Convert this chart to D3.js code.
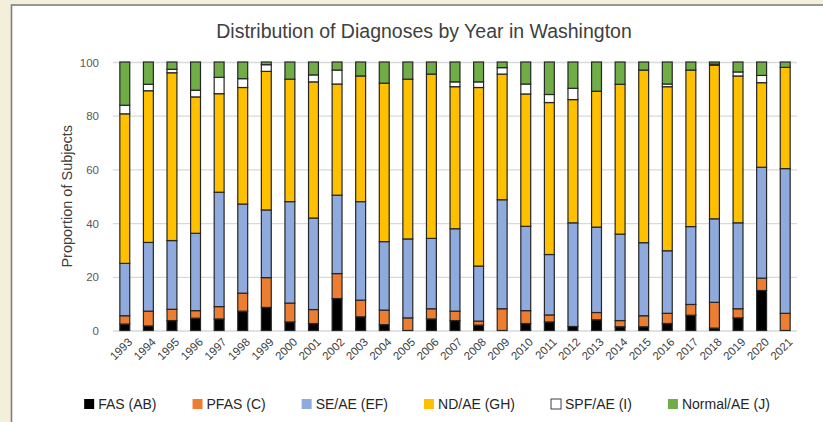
<!DOCTYPE html>
<html>
<head>
<meta charset="utf-8">
<script src="https://cdn.jsdelivr.net/npm/d3@7"></script>
<style>
	body { margin: 0; padding: 0; background: #f4efda; }
	svg { display: block; }
	.tick text { font-family: "Liberation Sans", Arial, sans-serif; }
</style>
</head>
<body>
<script>
//recreate the stacked bar chart of diagnoses by year
(function(){

//chart data (percent of subjects per year)
var years = ["1993","1994","1995","1996","1997","1998","1999","2000","2001","2002",
	"2003","2004","2005","2006","2007","2008","2009","2010","2011","2012",
	"2013","2014","2015","2016","2017","2018","2019","2020","2021"];

var fas = [2.4,1.7,3.7,4.6,4.3,7.2,8.6,3.2,2.6,11.9,
	5.1,2.2,0,4.3,3.7,2.0,0,2.6,3.2,1.5,
	4.0,1.4,1.4,2.6,5.7,0.9,4.7,14.9,0];
var pfas = [3.1,5.5,4.2,2.8,4.6,6.7,11.1,7.0,5.2,9.3,
	6.2,5.4,4.7,3.8,3.5,1.5,8.1,4.8,2.6,0,
	2.7,2.3,4.1,3.8,4.0,9.6,3.4,4.6,6.4];
var seAe = [19.5,25.6,25.6,28.8,42.6,33.2,25.2,37.8,34.1,29.2,
	36.7,25.5,29.4,26.2,30.7,20.5,40.6,31.4,22.5,38.6,
	31.8,32.2,27.2,23.3,29.0,31.1,32.0,41.3,53.9];
var ndAe = [55.7,56.5,62.5,50.8,36.7,43.4,51.6,45.6,50.7,41.4,
	46.8,59.0,59.5,61.2,52.9,66.5,46.8,49.3,56.6,45.9,
	50.6,55.8,64.3,61.1,58.3,57.2,54.7,31.5,37.7];
var spfAe = [3.2,2.4,1.3,2.5,6.1,3.3,2.5,0,2.6,5.2,
	0,0,0,0,1.8,2.1,2.4,3.7,3.0,4.2,
	0,0,0,1.0,0,0.4,1.5,2.7,0];
var normalAe = [16.1,8.3,2.7,10.5,5.7,6.2,1.0,6.4,4.8,3.0,
	5.2,7.9,6.4,4.5,7.4,7.4,2.1,8.2,12.1,9.8,
	10.9,8.3,3.0,8.2,3.0,0.8,3.7,5.0,2.0];

var seriesNames = ["FAS (AB)","PFAS (C)","SE/AE (EF)","ND/AE (GH)","SPF/AE (I)","Normal/AE (J)"];
var seriesColors = ["#000000","#ed7d31","#8faadc","#ffc000","#ffffff","#70ad47"];
var yTicks = [0,20,40,60,80,100];

var chartTitle = "Distribution of Diagnoses by Year in Washington";
var yTitle = "Proportion of Subjects";

//frame dimensions
var width = 823,
	height = 422,
	plotLeft = 113,
	plotRight = 797,
	plotTop = 62,
	plotBottom = 330.5;

var font = "'Liberation Sans', Arial, sans-serif";

var svg = d3.select("body")
	.append("svg")
	.attr("width", width)
	.attr("height", height);

//beige page behind the chart and the white chart panel
svg.append("rect")
	.attr("width", width)
	.attr("height", height)
	.attr("fill", "#f4efda");

svg.append("rect")
	.attr("x", 11.5)
	.attr("y", 5)
	.attr("width", width + 20)
	.attr("height", height + 20)
	.attr("fill", "#ffffff")
	.attr("stroke", "#7f7f7f")
	.attr("stroke-width", 1.6);

//build the table the stack layout wants
var table = years.map(function(y, i){
	var row = { year: y };
	row[seriesNames[0]] = fas[i];
	row[seriesNames[1]] = pfas[i];
	row[seriesNames[2]] = seAe[i];
	row[seriesNames[3]] = ndAe[i];
	row[seriesNames[4]] = spfAe[i];
	row[seriesNames[5]] = normalAe[i];
	return row;
});

var stacked = d3.stack().keys(seriesNames)(table);

//scales
var xScale = d3.scaleBand()
	.domain(years)
	.range([plotLeft, plotRight])
	.paddingInner(0.58)
	.paddingOuter(0.29);

var yScale = d3.scaleLinear()
	.domain([0, 100])
	.range([plotBottom, plotTop]);

var colorScale = d3.scaleOrdinal()
	.domain(seriesNames)
	.range(seriesColors);

//gridlines
var grid = svg.append("g")
	.attr("transform", "translate(" + plotLeft + ",0)")
	.call(d3.axisLeft(yScale).tickValues(yTicks).tickSize(-(plotRight - plotLeft)).tickFormat(""));
grid.select(".domain").remove();
grid.selectAll("line")
	.attr("stroke", "#d9d9d9")
	.attr("stroke-width", 1.3);

//y axis labels
var yAxis = svg.append("g")
	.attr("transform", "translate(" + (plotLeft - 11) + ",0)")
	.call(d3.axisLeft(yScale).tickValues(yTicks).tickSize(0));
yAxis.select(".domain").remove();
yAxis.selectAll("text")
	.attr("fill", "#595959")
	.attr("dy", "0.35em")
	.style("font-size", "11.5px");

//stacked bars
var layers = svg.selectAll(".layer")
	.data(stacked)
	.enter()
	.append("g")
	.attr("class", "layer")
	.attr("fill", function(d){ return colorScale(d.key); });

layers.selectAll("rect")
	.data(function(d){ return d.filter(function(s){ return s[1] - s[0] > 0; }); })
	.enter()
	.append("rect")
	.attr("x", function(d){ return xScale(d.data.year); })
	.attr("width", xScale.bandwidth())
	.attr("y", function(d){ return yScale(d[1]); })
	.attr("height", function(d){ return yScale(d[0]) - yScale(d[1]); })
	.attr("stroke", "#262626")
	.attr("stroke-width", 1.2);

//x axis with rotated year labels
var xAxis = svg.append("g")
	.attr("transform", "translate(0," + plotBottom + ")")
	.call(d3.axisBottom(xScale).tickSize(0));
xAxis.select(".domain").remove();
xAxis.selectAll("text")
	.attr("fill", "#404040")
	.style("font-size", "11.5px")
	.style("text-anchor", "end")
	.attr("dx", 0)
	.attr("dy", 0)
	.attr("transform", "translate(6,10) rotate(-45)");

//titles
svg.append("text")
	.attr("x", 424)
	.attr("y", 38)
	.attr("text-anchor", "middle")
	.attr("fill", "#404040")
	.style("font-family", font)
	.style("font-size", "19.5px")
	.text(chartTitle);

svg.append("text")
	.attr("transform", "translate(72," + ((plotTop + plotBottom) / 2) + ") rotate(-90)")
	.attr("text-anchor", "middle")
	.attr("fill", "#404040")
	.style("font-family", font)
	.style("font-size", "14.5px")
	.text(yTitle);

//legend, centered below the plot
var legend = svg.append("g");
var items = legend.selectAll(".item")
	.data(seriesNames)
	.enter()
	.append("g")
	.attr("class", "item");

items.append("rect")
	.attr("width", 10)
	.attr("height", 10)
	.attr("y", -10)
	.attr("fill", function(d){ return colorScale(d); })
	.attr("stroke", function(d){ return d === "SPF/AE (I)" ? "#404040" : "none"; });

items.append("text")
	.attr("x", 14)
	.attr("fill", "#262626")
	.style("font-family", font)
	.style("font-size", "14px")
	.text(function(d){ return d; });

//place items one after another with an even gap
var gap = 36, pos = 0;
items.each(function(){
	var w = 14 + d3.select(this).select("text").node().getComputedTextLength();
	d3.select(this).attr("transform", "translate(" + pos + ",0)");
	pos += w + gap;
});
var legendWidth = pos - gap;
legend.attr("transform", "translate(" + (427 - legendWidth / 2) + ",409)");

})();
</script>
</body>
</html>
